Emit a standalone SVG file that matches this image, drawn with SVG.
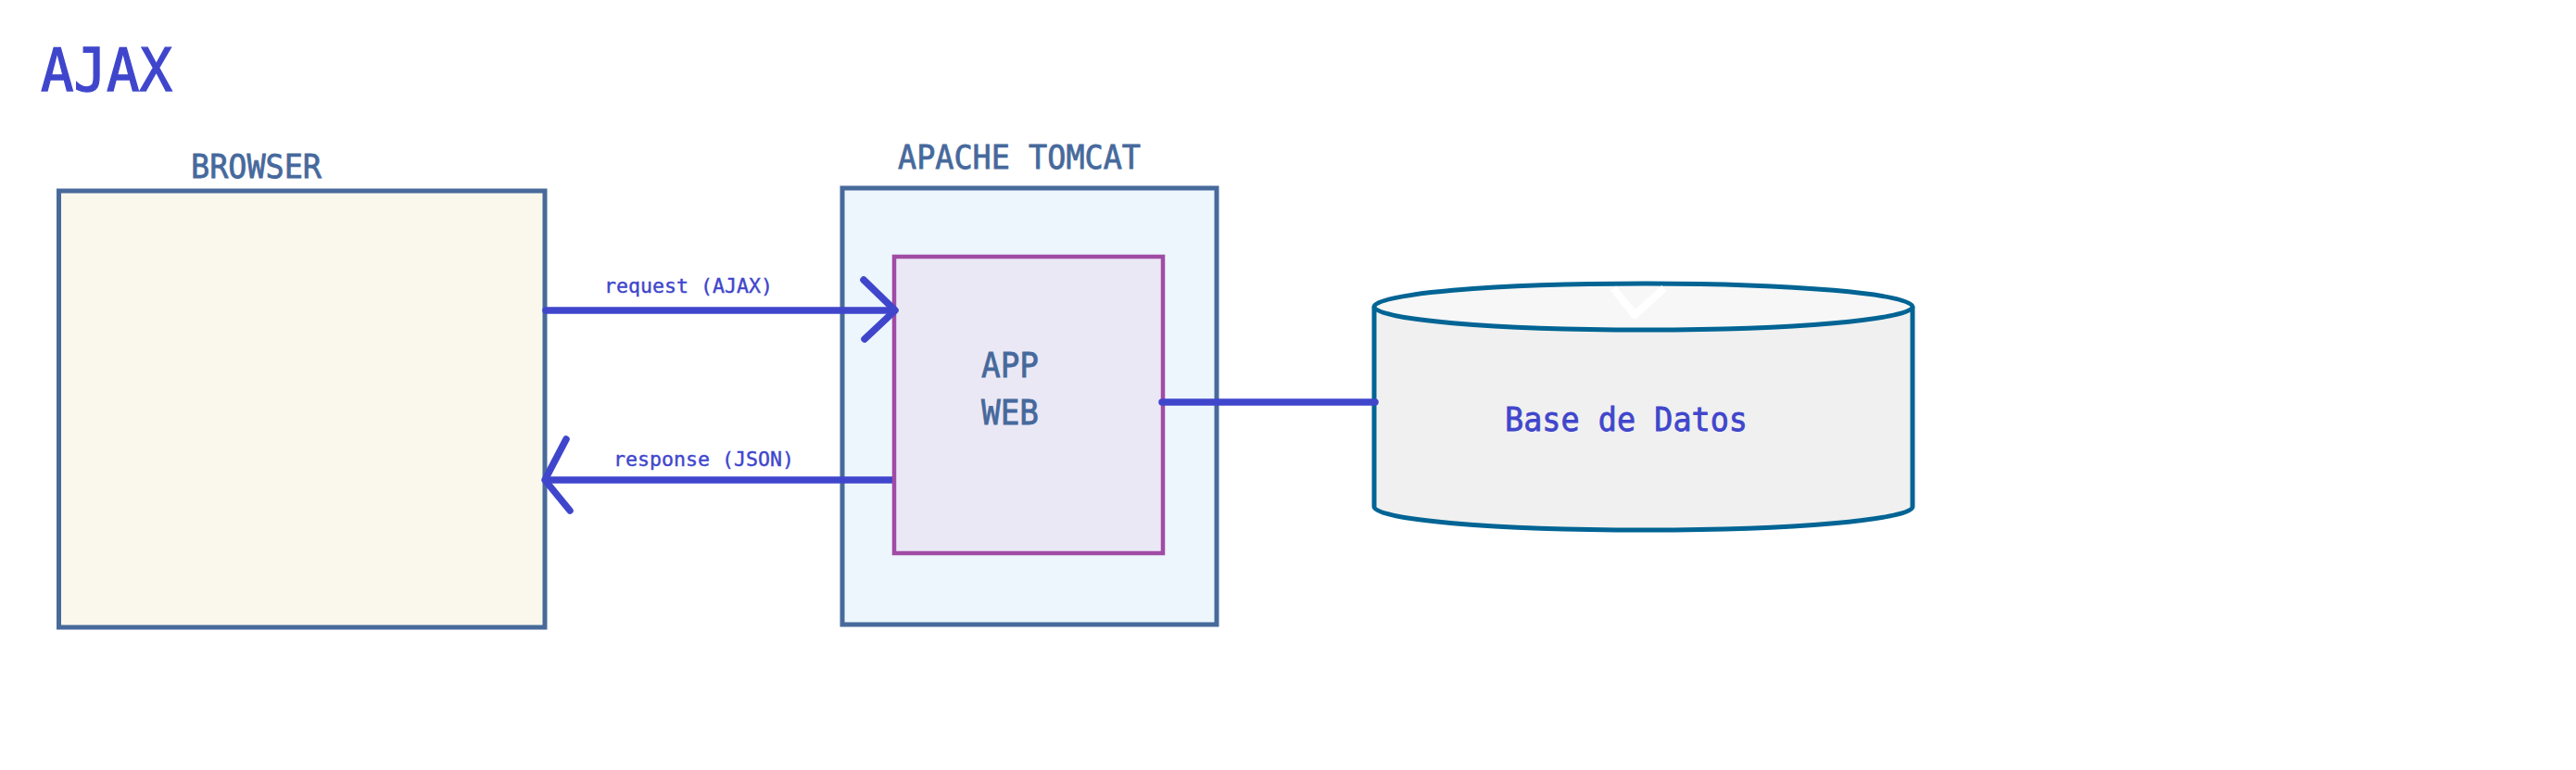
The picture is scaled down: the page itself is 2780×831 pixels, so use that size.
<svg xmlns="http://www.w3.org/2000/svg" width="2780" height="831" viewBox="0 0 2780 831">
<style>
.lbl{font-family:"DejaVu Sans Mono","Liberation Mono",monospace;fill:#46699c;stroke:#46699c;stroke-width:0.8}
.blue{font-family:"DejaVu Sans Mono","Liberation Mono",monospace;fill:#4046cc;stroke:#4046cc;stroke-width:0.8}
.big{stroke-width:1.4}
.small{stroke-width:0.4}
.box{stroke:#476a9b;stroke-width:5}
.conn{stroke:#4046cc;stroke-width:7.5;fill:none;stroke-linejoin:round}
.db{stroke:#006494;stroke-width:5}
</style>
<rect width="2780" height="831" fill="#ffffff"/>
<g id="title">
<text class="blue big" x="44" y="98" font-size="64" textLength="142" lengthAdjust="spacingAndGlyphs">AJAX</text>
</g>
<g id="browser">
<rect class="box" x="63.5" y="206" width="524.5" height="471" fill="#faf8ec"/>
<text class="lbl" x="206" y="192" font-size="36" textLength="141" lengthAdjust="spacingAndGlyphs">BROWSER</text>
</g>
<g id="tomcat">
<rect class="box" x="909" y="203" width="404" height="471" fill="#ecf6fc"/>
<text class="lbl" x="969" y="182" font-size="36" textLength="262" lengthAdjust="spacingAndGlyphs">APACHE TOMCAT</text>
</g>
<g id="appweb">
<rect x="965" y="277" width="290" height="320" fill="#ebe8f5" stroke="#a04ca5" stroke-width="4.5"/>
<text class="lbl" x="1059" y="407" font-size="37" textLength="62" lengthAdjust="spacingAndGlyphs">APP</text>
<text class="lbl" x="1059" y="458" font-size="37" textLength="62" lengthAdjust="spacingAndGlyphs">WEB</text>
</g>
<g id="database">
<path class="db" d="M1483,331 L1483,547 A290.5,25 0 0 0 2064,547 L2064,331" fill="#f0f0f0"/>
<ellipse class="db" cx="1773.5" cy="331" rx="290.5" ry="25" fill="#f7f7f7"/>
<polyline points="1741,311 1764,340 1796,311" fill="none" stroke="#ffffff" stroke-width="8" stroke-linejoin="round"/>
<text class="blue" x="1624" y="465" font-size="36" textLength="262" lengthAdjust="spacingAndGlyphs">Base de Datos</text>
</g>
<g id="connectors">
<line class="conn" x1="589" y1="335" x2="964" y2="335" stroke-linecap="round"/>
<polyline class="conn" points="932,302 966,335 933,366" stroke-linecap="round"/>
<text class="blue small" x="652" y="316" font-size="22" textLength="182" lengthAdjust="spacingAndGlyphs">request (AJAX)</text>
<line class="conn" x1="963" y1="518" x2="590" y2="518" stroke-linecap="butt"/>
<polyline class="conn" points="611,474 588,518 615,551" stroke-linecap="round"/>
<text class="blue small" x="662" y="503" font-size="22" textLength="195" lengthAdjust="spacingAndGlyphs">response (JSON)</text>
<line class="conn" x1="1254" y1="434" x2="1484" y2="434" stroke-linecap="round"/>
</g>
</svg>
